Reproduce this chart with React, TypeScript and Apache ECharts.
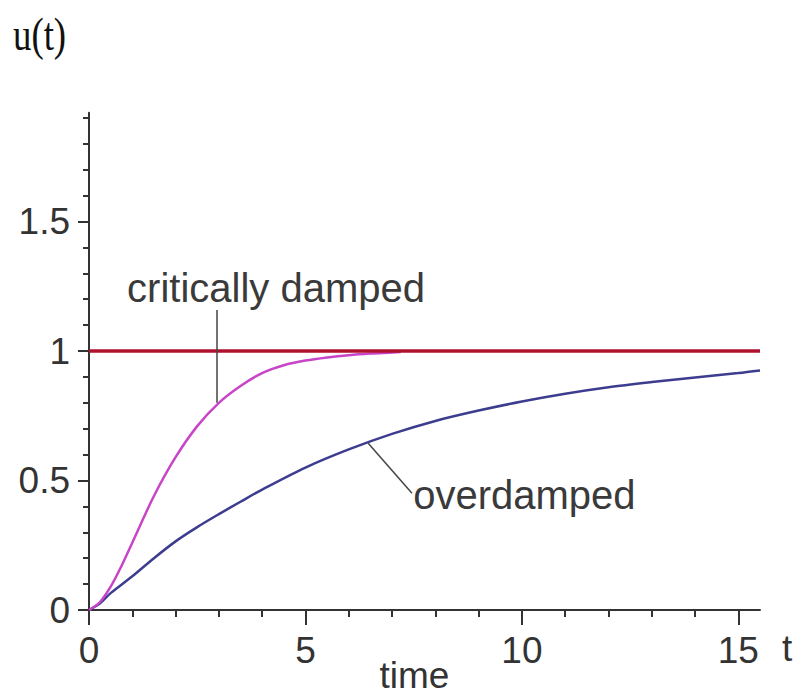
import React, { useEffect, useRef } from "react";
import * as echarts from "echarts";

// ---- data ----
const criticalT = [0, 0.25, 0.5, 0.75, 1, 1.5, 2, 2.5, 3, 3.5, 4, 4.5, 5, 5.5, 6, 6.5, 7, 7.2];
const criticalU = [0, 0.03, 0.09, 0.17, 0.26, 0.44, 0.59, 0.71, 0.8, 0.865, 0.915, 0.945, 0.963, 0.975, 0.984, 0.99, 0.994, 0.996];

const overT = [0, 0.25, 0.5, 1, 1.5, 2, 2.5, 3, 3.5, 4, 5, 6, 7, 8, 9, 10, 11, 12, 13, 14, 15, 15.5];
const overU = [0, 0.025, 0.065, 0.13, 0.2, 0.265, 0.32, 0.37, 0.418, 0.465, 0.55, 0.62, 0.68, 0.73, 0.77, 0.805, 0.835, 0.86, 0.88, 0.898, 0.915, 0.925];

const steadyT = [0, 15.5];
const steadyU = [1, 1];

const xMajorTicks = [0, 5, 10, 15];
const xMinorTicks = [0, 1, 2, 3, 4, 5, 6, 7, 8, 9, 10, 11, 12, 13, 14, 15];
const yMajorTicks = [0, 0.5, 1, 1.5];
const yMinorTicks = [0, 0.1, 0.2, 0.3, 0.4, 0.5, 0.6, 0.7, 0.8, 0.9, 1, 1.1, 1.2, 1.3, 1.4, 1.5, 1.6, 1.7, 1.8, 1.9];

const X_MAX = 15.5;
const Y_MAX = 1.92;

// annotation anchors (data coordinates, top-left of the text)
const criticalLabel = { text: "critically damped", at: [0.88, 1.32] };
const criticalLeader = [[2.95, 1.158], [2.95, 0.8]];
const overLabel = { text: "overdamped", at: [7.49, 0.521] };
const overLeader = [[6.45, 0.644], [7.46, 0.451]];

const zip = (a: number[], b: number[]) => a.map((v, i) => [v, b[i]]);

const AXIS = "#333333";
const TICK_FONT = "'Liberation Sans', Arial, sans-serif";
const TICK_SIZE = 37;

export default function App() {
  const ref = useRef<HTMLDivElement>(null);
  useEffect(() => {
    if (!ref.current) return;
    const chart = echarts.init(ref.current, undefined, { renderer: "svg" });
    const option: any = {
      animation: false,
      backgroundColor: "#ffffff",
      grid: {
        left: 89,
        right: 40,
        top: 610 - Y_MAX * 259,
        bottom: 85,
        containLabel: false,
        outerBoundsMode: "none",
      },
      xAxis: [
        {
          type: "value",
          position: "bottom",
          min: 0,
          max: X_MAX,
          splitLine: { show: false },
          axisLine: { show: true, onZero: false, lineStyle: { color: AXIS, width: 2 } },
          axisTick: { show: true, customValues: xMinorTicks, length: 7, lineStyle: { color: AXIS, width: 2 } },
          axisLabel: {
            show: true,
            customValues: xMajorTicks,
            margin: 22,
            color: "#333",
            fontSize: TICK_SIZE,
            fontFamily: TICK_FONT,
          },
          name: "time",
          nameLocation: "middle",
          nameGap: 50,
          nameMoveOverlap: false,
          nameTextStyle: {
            color: "#333",
            fontSize: TICK_SIZE,
            fontFamily: TICK_FONT,
            lineHeight: 30,
            padding: [0, 20, 0, 0],
          },
        },
        {
          type: "value",
          position: "bottom",
          min: 0,
          max: X_MAX,
          splitLine: { show: false },
          axisLine: { show: false, onZero: false },
          axisTick: { show: true, customValues: xMajorTicks, length: 15, lineStyle: { color: AXIS, width: 2 } },
          axisLabel: { show: false },
          name: "t",
          nameLocation: "end",
          nameGap: 22,
          nameTextStyle: {
            color: "#333",
            fontSize: TICK_SIZE,
            fontFamily: TICK_FONT,
            align: "left",
            verticalAlign: "top",
            padding: [20, 0, 0, 0],
          },
        },
      ],
      yAxis: [
        {
          type: "value",
          position: "left",
          min: 0,
          max: Y_MAX,
          splitLine: { show: false },
          axisLine: { show: true, onZero: false, lineStyle: { color: AXIS, width: 2 } },
          axisTick: { show: true, customValues: yMinorTicks, length: 6, lineStyle: { color: AXIS, width: 2 } },
          axisLabel: {
            show: true,
            customValues: yMajorTicks,
            margin: 19,
            color: "#333",
            fontSize: TICK_SIZE,
            fontFamily: TICK_FONT,
          },
        },
        {
          type: "value",
          position: "left",
          min: 0,
          max: Y_MAX,
          splitLine: { show: false },
          axisLine: { show: false, onZero: false },
          axisTick: { show: true, customValues: yMajorTicks, length: 11, lineStyle: { color: AXIS, width: 2 } },
          axisLabel: { show: false },
        },
      ],
      series: [
        {
          name: "overdamped",
          type: "line",
          xAxisIndex: 0,
          yAxisIndex: 0,
          data: zip(overT, overU),
          smooth: 0.3,
          showSymbol: false,
          lineStyle: { color: "#3d3d8f", width: 2.5 },
          markLine: {
            silent: true,
            symbol: ["none", "none"],
            label: { show: false },
            lineStyle: { color: "#444", width: 1.5, type: "solid" },
            data: [
              [{ coord: criticalLeader[0] }, { coord: criticalLeader[1] }],
              [{ coord: overLeader[0] }, { coord: overLeader[1] }],
            ],
          },
        },
        {
          name: "critically damped",
          type: "line",
          xAxisIndex: 0,
          yAxisIndex: 0,
          data: zip(criticalT, criticalU),
          smooth: 0.3,
          showSymbol: false,
          lineStyle: { color: "#c845c8", width: 2.5 },
        },
        {
          name: "steady state",
          type: "line",
          xAxisIndex: 0,
          yAxisIndex: 0,
          data: zip(steadyT, steadyU),
          showSymbol: false,
          lineStyle: { color: "#b0112f", width: 3.5 },
          z: 3,
        },
      ],
    };
    chart.setOption(option);

    const px = (p: number[]) => chart.convertToPixel({ xAxisIndex: 0, yAxisIndex: 0 }, p) as number[];
    const c = px(criticalLabel.at);
    const o = px(overLabel.at);
    chart.setOption({
      graphic: [
        {
          type: "text",
          left: 13,
          top: 12,
          scaleX: 0.8,
          style: { text: "u(t)", fill: "#111", font: "46px 'Liberation Serif', 'Times New Roman', serif" },
        },
        {
          type: "text",
          x: c[0],
          y: c[1],
          style: {
            text: criticalLabel.text,
            fill: "#3a3a3a",
            font: "40px 'Liberation Sans', Arial, sans-serif",
            verticalAlign: "top",
          },
        },
        {
          type: "text",
          x: o[0],
          y: o[1],
          style: {
            text: overLabel.text,
            fill: "#3a3a3a",
            font: "40px 'Liberation Sans', Arial, sans-serif",
            verticalAlign: "top",
          },
        },
      ],
    });

    return () => chart.dispose();
  }, []);
  return <div ref={ref} style={{ position: "fixed", left: 0, top: 0, width: 800, height: 695 }} />;
}
